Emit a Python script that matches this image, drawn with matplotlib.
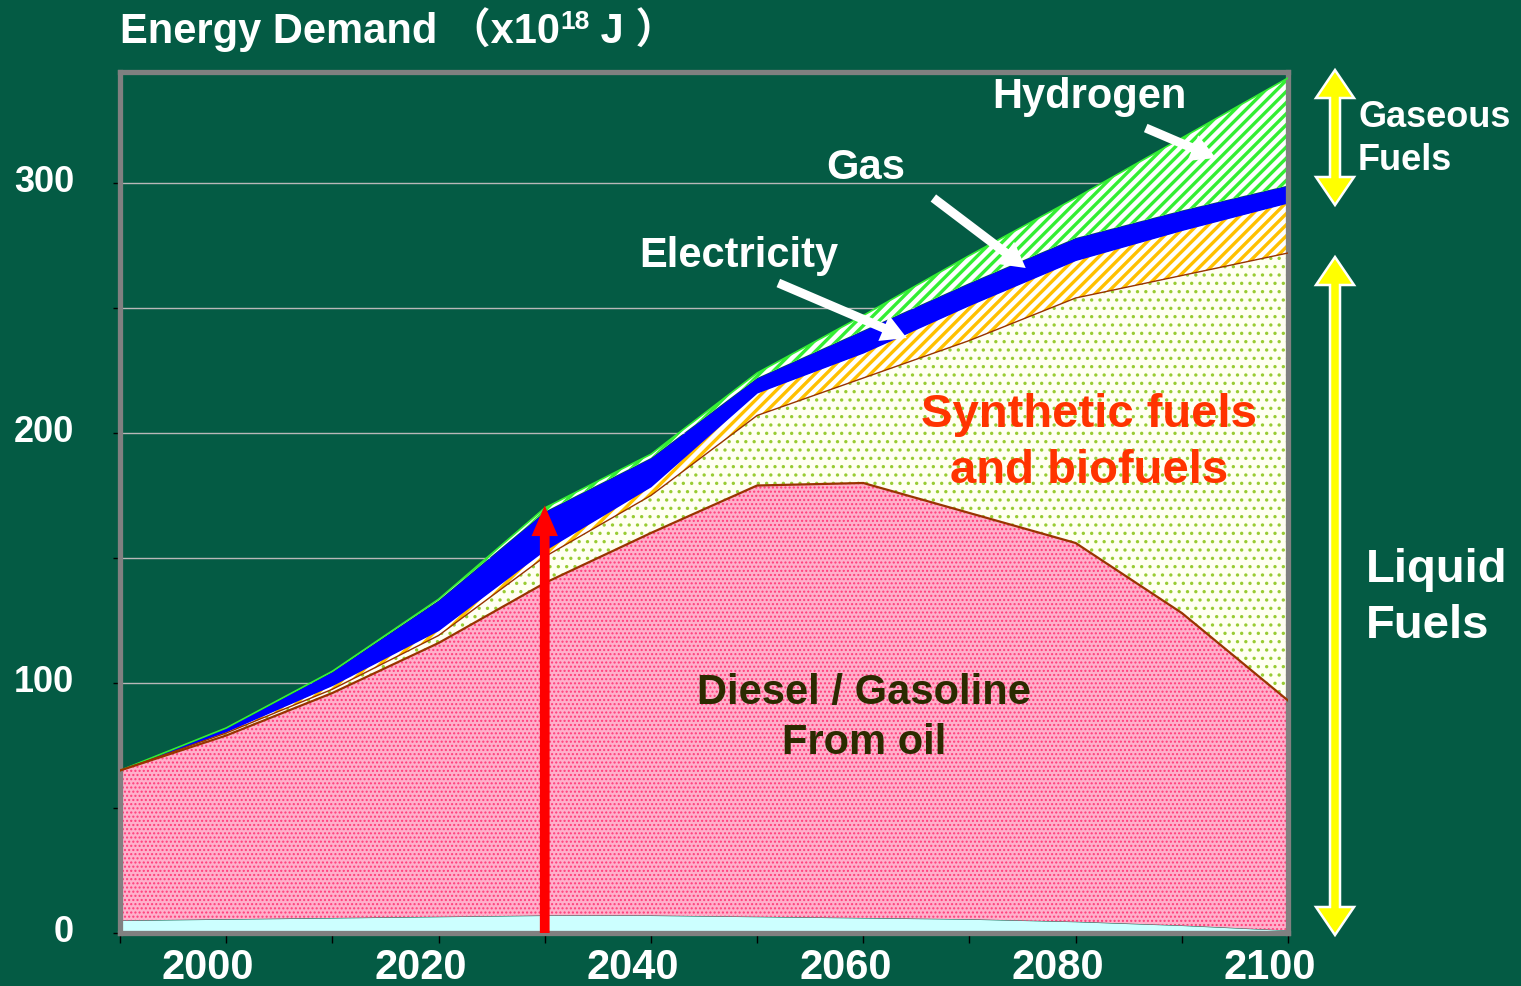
import numpy as np
import matplotlib
matplotlib.use("Agg")
import matplotlib.pyplot as plt
from matplotlib.patches import Polygon
from matplotlib.transforms import ScaledTranslation

# Energy demand scenario, stacked (x10^18 J)
years = [1990, 2000, 2010, 2020, 2030, 2040, 2050, 2060, 2070, 2080, 2090, 2100]
other_top = [5, 5.5, 6, 6.5, 7, 7, 6.5, 6, 5.5, 4.5, 3, 1]
diesel_top = [65, 79, 96, 116, 140, 160, 179, 180, 168, 156, 128, 93]
synth_top = [65, 80, 97.5, 119, 150.5, 175, 207, 222, 237, 254, 263, 272]
elec_top = [65, 80.5, 99, 121, 153, 178.5, 216, 232, 251, 269, 281, 292]
gas_top = [65, 82, 104.5, 133, 168.5, 190, 222, 241, 260, 278, 289, 299]
h2_top = [65, 82, 104.7, 133.5, 170, 191.5, 224, 247, 271, 294, 318, 342]

xtick_years = [2000, 2020, 2040, 2060, 2080, 2100]
ytick_vals = [0, 100, 200, 300]
arrow_year = 2030

BG = '#045B44'
FONT = ['Liberation Sans', 'Noto Sans CJK SC', 'DejaVu Sans']
plt.rcParams['font.family'] = FONT

W, H = 1521, 986
fig = plt.figure(figsize=(W / 100, H / 100), dpi=100, facecolor=BG)
ax = fig.add_axes([120 / W, 1 - 933 / H, (1288 - 120) / W, (933 - 72) / H])
ax.set_facecolor(BG)
ax.set_xlim(1990, 2100)
ax.set_ylim(0, 344.4)

x = np.array(years)


def layer(lo, hi, face, hatch=None, hcol=None, hlw=1.0, z=2):
    with plt.rc_context({'hatch.linewidth': hlw}):
        ax.fill_between(x, lo, hi, facecolor=face, edgecolor=hcol if hcol else face,
                        hatch=hatch, linewidth=0, zorder=z)


layer(0, other_top, '#CCFFFF')
layer(other_top, diesel_top, '#FFB0CB', '....', '#FF3D7A', 1.0)
layer(diesel_top, synth_top, '#FFFFF2', '..', '#99CC33', 1.2)
layer(synth_top, elec_top, '#FFFFFF', '///', '#FFC000', 2.4)
layer(elec_top, gas_top, '#0000FF')
layer(gas_top, h2_top, '#FFFFFF', '///', '#33EE33', 2.4)
ax.plot(x, h2_top, color='#33EE33', lw=1.2, zorder=3)
ax.plot(x, diesel_top, color='#993300', lw=1.6, zorder=3)
ax.plot(x, synth_top, color='#993300', lw=1.0, zorder=3)

# grid and frame
ax.set_yticks(ytick_vals)
ax.set_yticks([50, 150, 250], minor=True)
ax.set_xticks(xtick_years)
ax.set_xticks([1990, 2010, 2030, 2050, 2070, 2090], minor=True)
ax.grid(True, which='both', axis='y', color='#B8B8B8', lw=1.0, zorder=0)
ax.set_axisbelow(True)
for s in ax.spines.values():
    s.set_color('#808080')
    s.set_linewidth(3.8)
ax.tick_params(axis='y', which='both', length=5, color='black', width=1,
               labelsize=26, labelcolor='white', pad=28)
ax.tick_params(axis='x', which='both', length=7, color='black', width=1,
               labelsize=30, labelcolor='white', pad=4)
for lab in ax.get_yticklabels() + ax.get_xticklabels():
    lab.set_fontweight('bold')
for lab in ax.get_xticklabels():
    lab.set_transform(lab.get_transform() + ScaledTranslation(-0.18, 0, fig.dpi_scale_trans))
for lab in ax.get_yticklabels():
    lab.set_transform(lab.get_transform() + ScaledTranslation(0, 0.04, fig.dpi_scale_trans))

# red arrow at 2030
i30 = years.index(arrow_year)
ax.annotate('', xy=(arrow_year, h2_top[i30] + 1), xytext=(arrow_year, 0),
            arrowprops=dict(facecolor='#FF0000', edgecolor='none', width=7,
                            headwidth=19, headlength=22, shrink=0), zorder=5)

# labels inside the plot
bold = dict(fontweight='bold', ha='center', va='center')
ax.text(2081.3, 334.5, 'Hydrogen', color='white', fontsize=30, **bold)
ax.text(2060.2, 306, 'Gas', color='white', fontsize=30, **bold)
ax.text(2048.3, 271, 'Electricity', color='white', fontsize=30, **bold)
ax.text(2081.3, 196, 'Synthetic fuels\nand biofuels', color='#FF3300', fontsize=34,
        linespacing=1.36, zorder=6, **bold)
ax.text(2060.1, 86, 'Diesel / Gasoline\nFrom oil', color='#2B2B00', fontsize=30,
        linespacing=1.33, zorder=6, **bold)

wa = dict(facecolor='white', edgecolor='none', width=6.5, headwidth=20, headlength=18, shrink=0)
ax.annotate('', xy=(2093.2, 310), xytext=(2086.6, 322), arrowprops=wa, zorder=6)
ax.annotate('', xy=(2075.3, 266), xytext=(2066.6, 294), arrowprops=wa, zorder=6)
ax.annotate('', xy=(2064.1, 238), xytext=(2052.0, 260), arrowprops=wa, zorder=6)

# title
t1 = fig.text(120 / W, 1 - 30 / H, 'Energy Demand （x10', color='white', fontsize=30,
              fontweight='bold', va='center', ha='left')
t2 = ax.annotate('18', xy=(1, 0.95), xycoords=t1, va='top', ha='left', color='white',
                 fontsize=19, fontweight='bold', annotation_clip=False)
ax.annotate(' J ）', xy=(1.0, 0), xycoords=(t2, t1), va='bottom', ha='left',
            color='white', fontsize=30, fontweight='bold', annotation_clip=False)


# yellow double arrows on the right
def double_arrow(cx, ytop, ybot, shaft=5, head=19, hl=28):
    pts = [(cx, ytop), (cx + head, ytop + hl), (cx + shaft, ytop + hl),
           (cx + shaft, ybot - hl), (cx + head, ybot - hl), (cx, ybot),
           (cx - head, ybot - hl), (cx - shaft, ybot - hl), (cx - shaft, ytop + hl),
           (cx - head, ytop + hl)]
    pts = [(px / W, 1 - py / H) for px, py in pts]
    fig.patches.append(Polygon(pts, closed=True, facecolor='#FFFF00', edgecolor='white',
                               lw=1.8, transform=fig.transFigure, figure=fig))


double_arrow(1335, 70, 205)
double_arrow(1335, 257, 935)

fig.text(1358 / W, 1 - 139 / H, 'Gaseous\nFuels', color='white', fontsize=26,
         fontweight='bold', va='center', ha='left', linespacing=1.28)
fig.text(1366 / W, 1 - 598 / H, 'Liquid\nFuels', color='white', fontsize=34,
         fontweight='bold', va='center', ha='left', linespacing=1.36)

fig.savefig('out.png', dpi=100, facecolor=BG)
